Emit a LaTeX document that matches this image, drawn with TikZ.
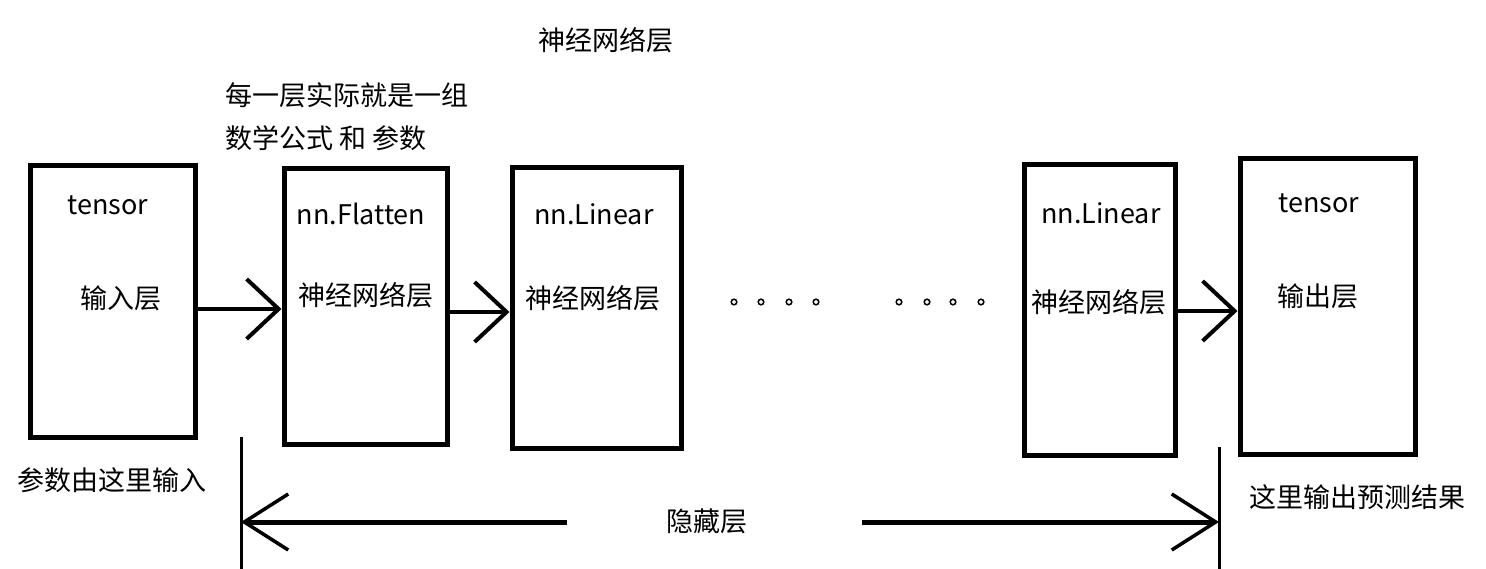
\documentclass[tikz,border=0pt]{standalone}
\usepackage{fontspec}
\newfontfamily\cjk{Noto Sans CJK SC}
\usetikzlibrary{arrows.meta}
\begin{document}
\begin{tikzpicture}[x=1pt,y=-1pt,
  every node/.style={font=\cjk\fontsize{27}{32}\selectfont, inner sep=0pt},
  layerbox/.style={draw, line width=5pt, rectangle, inner sep=0pt},
  arr/.style={line width=4.5pt, -{Straight Barb[length=32pt, width=60pt, line width=4pt]}},
  harr/.style={line width=5pt, -{Straight Barb[length=44pt, width=56pt, line width=3.5pt]}},
  vline/.style={line width=3pt},
  dot/.style={line width=1.5pt}]
\useasboundingbox (0,0) rectangle (1486,569);
% boxes
\node[layerbox, minimum width=165pt, minimum height=271pt] (in) at (112.5,301.5) {};
\node[layerbox, minimum width=163pt, minimum height=275pt] (fl) at (365.5,306.5) {};
\node[layerbox, minimum width=169pt, minimum height=280pt] (l1) at (596.5,308) {};
\node[layerbox, minimum width=151pt, minimum height=290pt] (l2) at (1099.5,310) {};
\node[layerbox, minimum width=175pt, minimum height=295pt] (out) at (1327.5,306.5) {};
% box texts
\node (t1) at (108,205) {tensor};
\node (t2) at (121,298) {输入层};
\node (t3) at (361,214) {nn.Flatten};
\node (t4) at (366,295) {神经网络层};
\node (t5) at (594,214) {nn.Linear};
\node (t6) at (593,298) {神经网络层};
\node (t7) at (1101,213) {nn.Linear};
\node (t8) at (1099,302) {神经网络层};
\node (t9) at (1319,203) {tensor};
\node (t10) at (1318,296) {输出层};
% top and bottom texts
\node (title) at (606,40) {神经网络层};
\node[anchor=west] (n1) at (225,95) {每一层实际就是一组};
\node[anchor=west] (n2) at (225,138) {数学公式 和 参数};
\node[anchor=west] (n3) at (17,480) {参数由这里输入};
\node[anchor=west] (n4) at (1249,497) {这里输出预测结果};
\node (hid) at (707,521) {隐藏层};
% arrows between layers
\coordinate (y1) at (0,309);
\coordinate (y2) at (0,312);
\coordinate (y3) at (0,311);
\draw[arr] (in.east |- y1) -- (fl.west |- y1);
\draw[arr] (fl.east |- y2) -- (l1.west |- y2);
\draw[arr] (l2.east |- y3) -- (out.west |- y3);
% dots
\foreach \x in {734,761,789,816,899,927,953,981}
  \draw[dot] (\x,302) circle (2.8pt);
% hidden layer span
\coordinate (vlt) at (241,437);
\coordinate (vlb) at (241,569);
\coordinate (vrt) at (1219,447);
\coordinate (vrb) at (1219,569);
\draw[vline] (vlt) -- (vlb);
\draw[vline] (vrt) -- (vrb);
\coordinate (hl) at (567,522);
\coordinate (hr) at (862,522);
\draw[harr] (hl) -- (vlt |- hl);
\draw[harr] (hr) -- (vrt |- hr);
\end{tikzpicture}
\end{document}
